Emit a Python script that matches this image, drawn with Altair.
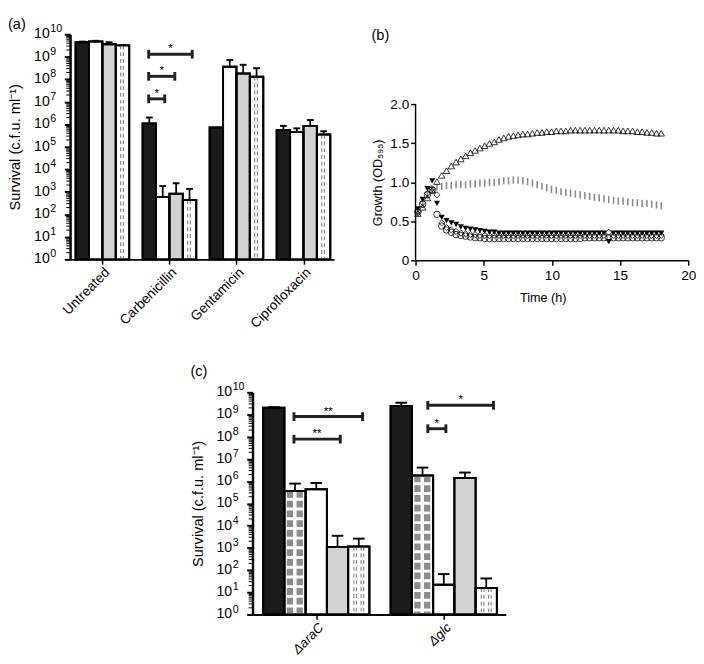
import altair as alt
import pandas as pd

FONT = "Liberation Sans"

# ---------------- panel (a): survival after antibiotic treatment ----------------
A_GROUPS = ["Untreated", "Carbenicillin", "Gentamicin", "Ciprofloxacin"]
A_BLACK = [4.4e9, 1.1e6, 7.2e5, 5.6e5]
A_BLACK_ERR = [4.7e9, 2.0e6, 7.2e5, 8.5e5]
A_WHITE = [4.8e9, 5.9e2, 3.6e8, 4.5e5]
A_WHITE_ERR = [5.1e9, 1.8e3, 7.2e8, 6.6e5]
A_GREY = [3.6e9, 8.2e2, 1.8e8, 8.5e5]
A_GREY_ERR = [4.4e9, 2.4e3, 4.4e8, 1.55e6]
A_DASHED = [3.2e9, 4.3e2, 1.3e8, 3.5e5]
A_DASHED_ERR = [3.3e9, 1.35e3, 3.1e8, 4.9e5]
# significance brackets (positions in bar slots, height in c.f.u.)
A_BR_FROM = [5.45, 5.45, 5.45]
A_BR_TO = [8.7, 7.4, 6.65]
A_BR_Y = [1.3e9, 1.35e8, 1.35e7]
A_BR_TEXT = ["*", "*", "*"]

# ---------------- panel (b): growth curves ----------------
B_TIME = [0.17, 0.52, 0.87, 1.22, 1.57, 1.92, 2.27, 2.62, 2.97, 3.32, 3.67, 4.02, 4.37,
          4.72, 5.07, 5.42, 5.77, 6.12, 6.47, 6.82, 7.17, 7.52, 7.87, 8.22, 8.57, 8.92,
          9.27, 9.62, 9.97, 10.32, 10.67, 11.02, 11.37, 11.72, 12.07, 12.42, 12.77, 13.12,
          13.47, 13.82, 14.17, 14.52, 14.87, 15.22, 15.57, 15.92, 16.27, 16.62, 16.97,
          17.32, 17.67, 18.02]
B_TRI_UP = [0.60, 0.68, 0.80, 0.90, 1.01, 1.09, 1.15, 1.21, 1.26, 1.30, 1.34, 1.38, 1.41,
            1.44, 1.47, 1.50, 1.52, 1.55, 1.57, 1.59, 1.60, 1.61, 1.62, 1.62, 1.63, 1.64,
            1.64, 1.65, 1.65, 1.66, 1.66, 1.66, 1.67, 1.67, 1.67, 1.67, 1.67, 1.67,
            1.67, 1.67, 1.67, 1.67, 1.67, 1.66, 1.66, 1.66, 1.65, 1.65, 1.64,
            1.64, 1.63, 1.63]
B_BARS = [0.61, 0.72, 0.84, 0.90, 0.94, 0.95, 0.96, 0.96, 0.97, 0.97, 0.97, 0.98, 0.98,
          0.99, 0.99, 1.00, 1.00, 1.01, 1.02, 1.02, 1.03, 1.03, 1.02, 1.01, 0.99, 0.97,
          0.95, 0.93, 0.91, 0.90, 0.88, 0.87, 0.86, 0.85, 0.84, 0.83, 0.82, 0.81,
          0.80, 0.79, 0.78, 0.77, 0.76, 0.76, 0.75, 0.74, 0.74, 0.73, 0.73,
          0.72, 0.71, 0.70]
B_TRI_DOWN = [0.66, 0.78, 0.92, 1.02, 0.73, 0.55, 0.51, 0.48, 0.46, 0.43, 0.41, 0.40, 0.39,
              0.38, 0.37, 0.36, 0.36, 0.35, 0.35, 0.35, 0.35, 0.35, 0.35, 0.35, 0.35, 0.35,
              0.35, 0.35, 0.35, 0.35, 0.35, 0.35, 0.35, 0.35, 0.35, 0.35, 0.35, 0.35,
              0.35, 0.35, 0.24, 0.35, 0.35, 0.35, 0.35, 0.35, 0.35, 0.35, 0.35,
              0.35, 0.35, 0.35]
B_CIRCLE = [0.62, 0.72, 0.84, 0.90, 0.59, 0.44, 0.39, 0.36, 0.33, 0.32, 0.31, 0.30, 0.29,
            0.29, 0.28, 0.28, 0.28, 0.28, 0.28, 0.28, 0.28, 0.28, 0.28, 0.28, 0.28, 0.28,
            0.28, 0.28, 0.28, 0.28, 0.28, 0.28, 0.28, 0.28, 0.28, 0.29, 0.29, 0.29,
            0.29, 0.29, 0.29, 0.29, 0.29, 0.29, 0.29, 0.29, 0.29, 0.29, 0.29,
            0.29, 0.29, 0.29]
B_DIAMOND = [0.63, 0.74, 0.86, 0.92, 0.84, 0.48, 0.42, 0.39, 0.37, 0.35, 0.34, 0.33, 0.33,
             0.32, 0.32, 0.32, 0.32, 0.32, 0.32, 0.32, 0.32, 0.32, 0.32, 0.32, 0.32, 0.32,
             0.32, 0.32, 0.32, 0.32, 0.32, 0.32, 0.32, 0.32, 0.32, 0.32, 0.32, 0.32,
             0.32, 0.32, 0.36, 0.32, 0.32, 0.32, 0.32, 0.32, 0.32, 0.32, 0.32,
             0.32, 0.32, 0.32]
B_YTICKS = [0, 0.5, 1.0, 1.5, 2.0]
B_XTICKS = [0, 5, 10, 15, 20]

# ---------------- panel (c): mutants ----------------
C_GROUPS = ["\u0394araC", "\u0394glc"]
C_BLACK = [2.0e9, 2.45e9]
C_BLACK_ERR = [2.15e9, 3.4e9]
C_HATCH = [3.6e5, 1.8e6]
C_HATCH_ERR = [7.8e5, 4.1e6]
C_WHITE = [4.3e5, 22]
C_WHITE_ERR = [8.3e5, 66]
C_GREY = [1.1e3, 1.4e6]
C_GREY_ERR = [3.5e3, 2.45e6]
C_DASHED = [1.15e3, 15.5]
C_DASHED_ERR = [2.6e3, 42]
C_BR_FROM = [1.45, 1.45, 7.75, 7.75]
C_BR_TO = [4.68, 3.63, 10.84, 8.6]
C_BR_Y = [8.1e8, 7.8e7, 2.6e9, 2.3e8]
C_BR_TEXT = ["**", "**", "*", "*"]

Y_DECADES = list(range(11))
Y_TITLE = "Survival (c.f.u. ml\u207b\u00b9)"


def bar_panel(groups, series, stride, br_from, br_to, br_y, br_text,
              width, height, xdom, cap, italic, title, xlab_size, title_offset):
    rows, pat, hatch = [], [], []
    for g, grp in enumerate(groups):
        for s, (vals, errs, fill, kind, fracs) in enumerate(series):
            x0 = g * stride + s
            rows.append(dict(x0=x0, x1=x0 + 1, cx=x0 + 0.5, val=vals[g], err=errs[g],
                             base=1, fill=fill))
            for f in fracs:
                d = dict(lx=x0 + f, val=vals[g], base=1)
                (pat if kind == "dashed" else hatch).append(d)
    df = pd.DataFrame(rows)
    n = len(series)
    centers = [g * stride + n / 2 for g in range(len(groups))]
    names = "[" + ",".join("'" + x + "'" for x in groups) + "]"
    xscale = alt.Scale(domain=xdom, nice=False, zero=False)
    yscale = alt.Scale(type="log", domain=[1, 1e10], nice=False)
    xaxis = alt.Axis(values=centers, labelExpr=f"{names}[round((datum.value-{n/2})/{stride})]",
                     title=None, grid=False, labelAngle=-45, labelFontSize=xlab_size,
                     labelFontStyle="italic" if italic else "normal",
                     tickSize=5, tickWidth=1.5, domainWidth=2, domainColor="black",
                     tickColor="black", labelColor="black", labelPadding=1,
                     labelOverlap=False, labelBound=False)
    yaxis = alt.Axis(values=[10 ** k for k in Y_DECADES], labels=False,
                     title=Y_TITLE, titleFontSize=15, titleFontWeight="normal",
                     titleColor="black", titlePadding=42,
                     grid=False, tickSize=6, tickWidth=2,
                     domainWidth=2.5, domainColor="black", tickColor="black")

    def X(f):
        return alt.X(f, scale=xscale, axis=xaxis)

    def Y(f):
        return alt.Y(f, scale=yscale, axis=yaxis)

    bars = alt.Chart(df).mark_rect(stroke="black", strokeWidth=2).encode(
        x=X("x0:Q"), x2="x1:Q", y=Y("val:Q"), y2="base:Q",
        fill=alt.Fill("fill:N", scale=None))
    layers = [bars]
    if pat:
        layers.append(alt.Chart(pd.DataFrame(pat)).mark_rule(
            strokeDash=[4, 3], strokeWidth=1.2, color="#8a8a8a").encode(
            x=X("lx:Q"), y=Y("val:Q"), y2="base:Q"))
    if hatch:
        layers.append(alt.Chart(pd.DataFrame(hatch)).mark_rule(
            strokeDash=[7, 3], strokeWidth=6.5, color="#8c8c8c").encode(
            x=X("lx:Q"), y=Y("val:Q"), y2="base:Q"))
    # redraw outlines on top of patterns
    layers.append(alt.Chart(df).mark_rect(stroke="black", strokeWidth=2, fillOpacity=0).encode(
        x=X("x0:Q"), x2="x1:Q", y=Y("val:Q"), y2="base:Q"))
    edf = df[df.err > df.val * 1.02]
    layers.append(alt.Chart(edf).mark_rule(strokeWidth=1.8, color="black").encode(
        x=X("cx:Q"), y=Y("val:Q"), y2="err:Q"))
    layers.append(alt.Chart(edf).mark_tick(orient="horizontal", size=cap, thickness=2,
                                           color="black", opacity=1).encode(
        x=X("cx:Q"), y=Y("err:Q")))
    bdf = pd.DataFrame(dict(a=br_from, b=br_to, y=br_y, t=br_text))
    bdf["m"] = (bdf.a + bdf.b) / 2
    layers.append(alt.Chart(bdf).mark_rule(strokeWidth=3, color="#222").encode(
        x=X("a:Q"), x2="b:Q", y=Y("y:Q")))
    ends = pd.concat([bdf[["a", "y"]].rename(columns={"a": "e"}),
                      bdf[["b", "y"]].rename(columns={"b": "e"})])
    layers.append(alt.Chart(ends).mark_tick(orient="vertical", size=9, thickness=3,
                                            color="#222", opacity=1).encode(
        x=X("e:Q"), y=Y("y:Q")))
    layers.append(alt.Chart(bdf).mark_text(fontSize=12, dy=-6, color="#000000").encode(
        x=X("m:Q"), y=Y("y:Q"), text="t:N"))
    minor = pd.DataFrame(dict(v=[m * 10 ** k for k in Y_DECADES[:-1] for m in range(2, 10)]))
    layers.append(alt.Chart(minor).mark_rule(strokeWidth=1, color="black").encode(
        x=alt.value(-4), x2=alt.value(0), y=Y("v:Q")))
    # tick labels: "10" with a real superscript exponent
    lab = pd.DataFrame(dict(v=[10 ** k for k in Y_DECADES], b=["10"] * len(Y_DECADES),
                            e=[str(k) for k in Y_DECADES]))
    layers.append(alt.Chart(lab).mark_text(align="right", baseline="middle", fontSize=14.5,
                                           color="black").encode(
        x=alt.value(-21), y=Y("v:Q"), text="b:N"))
    layers.append(alt.Chart(lab).mark_text(align="left", baseline="middle", fontSize=11,
                                           dy=-5, color="black").encode(
        x=alt.value(-20.5), y=Y("v:Q"), text="e:N"))
    return alt.layer(*layers).properties(
        width=width, height=height,
        title=alt.TitleParams(title, anchor="start", frame="bounds", fontSize=15,
                              fontWeight="normal", offset=title_offset, color="black"))


WHITE, BLACK, GREY = "#ffffff", "#1b1b1b", "#d2d2d2"
a = bar_panel(
    A_GROUPS,
    [(A_BLACK, A_BLACK_ERR, BLACK, "none", []),
     (A_WHITE, A_WHITE_ERR, WHITE, "none", []),
     (A_GREY, A_GREY_ERR, GREY, "none", []),
     (A_DASHED, A_DASHED_ERR, WHITE, "dashed", [0.36, 0.56])],
    5, A_BR_FROM, A_BR_TO, A_BR_Y, A_BR_TEXT, 272, 232, [-0.41, 19.28], 7, False, "(a)", 14, -9)

c = bar_panel(
    C_GROUPS,
    [(C_BLACK, C_BLACK_ERR, BLACK, "none", []),
     (C_HATCH, C_HATCH_ERR, WHITE, "hatch", [0.26, 0.72]),
     (C_WHITE, C_WHITE_ERR, WHITE, "none", []),
     (C_GREY, C_GREY_ERR, GREY, "none", []),
     (C_DASHED, C_DASHED_ERR, WHITE, "dashed", [0.27, 0.39, 0.61, 0.73])],
    6, C_BR_FROM, C_BR_TO, C_BR_Y, C_BR_TEXT, 261, 229, [-0.5, 11.42], 12, True, "(c)", 13.5, 3)

# ---------------- build panel (b) ----------------
B_H = 233
B_W = 281
B_YMAX = 2.0 * B_H / 160.7
bx = alt.Scale(domain=[0, 20], nice=False)
by = alt.Scale(domain=[0, B_YMAX], nice=False)
bxaxis = alt.Axis(values=B_XTICKS, title="Time (h)", titleFontSize=13, titleFontWeight="normal",
                  titleColor="black", labelFontSize=14, labelColor="black", grid=False,
                  tickSize=5, tickWidth=1.5, domainWidth=1.5, domainColor="black",
                  tickColor="black", labelPadding=4, titlePadding=9, titleX=131,
                  labelFlush=False)
byaxis = alt.Axis(values=B_YTICKS, title="Growth (OD\u2085\u2089\u2085)", titleFontSize=13,
                  titleFontWeight="normal", titleColor="black",
                  labelExpr="datum.value == 0 ? '0' : format(datum.value, '.1f')",
                  labelFontSize=14, labelColor="black", grid=False, tickSize=5, tickWidth=1.5,
                  domain=False, tickColor="black", titlePadding=6, titleY=B_H - 80.35)


def bser(vals, mark):
    d = pd.DataFrame(dict(t=B_TIME, v=vals))
    return alt.Chart(d).mark_point(**mark).encode(
        x=alt.X("t:Q", scale=bx, axis=bxaxis), y=alt.Y("v:Q", scale=by, axis=byaxis))


yline = alt.Chart(pd.DataFrame(dict(lo=[B_YTICKS[0]], hi=[B_YTICKS[-1]]))).mark_rule(
    strokeWidth=1.5, color="black").encode(
    x=alt.value(0), y=alt.Y("lo:Q", scale=by, axis=byaxis), y2="hi:Q")

b = alt.layer(
    yline,
    bser(B_BARS, dict(shape="M0,-1L0,1", filled=False, color="#8a8a8a", strokeWidth=1.6,
                      size=55, opacity=1)),
    bser(B_CIRCLE, dict(shape="circle", filled=False, color="black", strokeWidth=0.8,
                        size=45, opacity=1)),
    bser(B_DIAMOND, dict(shape="diamond", filled=False, color="black", strokeWidth=0.8,
                         size=40, opacity=1)),
    bser(B_TRI_UP, dict(shape="triangle-up", filled=False, color="black", strokeWidth=0.8,
                        size=45, opacity=1)),
    bser(B_TRI_DOWN, dict(shape="triangle-down", filled=True, color="black", size=40,
                          opacity=1)),
).properties(width=B_W, height=B_H,
             title=alt.TitleParams("(b)", anchor="start", frame="bounds", fontSize=15,
                                   fontWeight="normal", offset=-9, color="black"))

spacer = alt.Chart(pd.DataFrame(dict(z=[0]))).mark_point(opacity=0).encode(
    x=alt.value(0), y=alt.value(0)).properties(width=124, height=20)

row1 = alt.hconcat(a, b, spacing=38)
row2 = alt.hconcat(spacer, c, spacing=0)
chart = alt.vconcat(row1, row2, spacing=34).properties(padding=0).configure(
    font=FONT).configure_view(stroke=None)

chart.save("out.html", embed_options={"renderer": "svg", "actions": False})
